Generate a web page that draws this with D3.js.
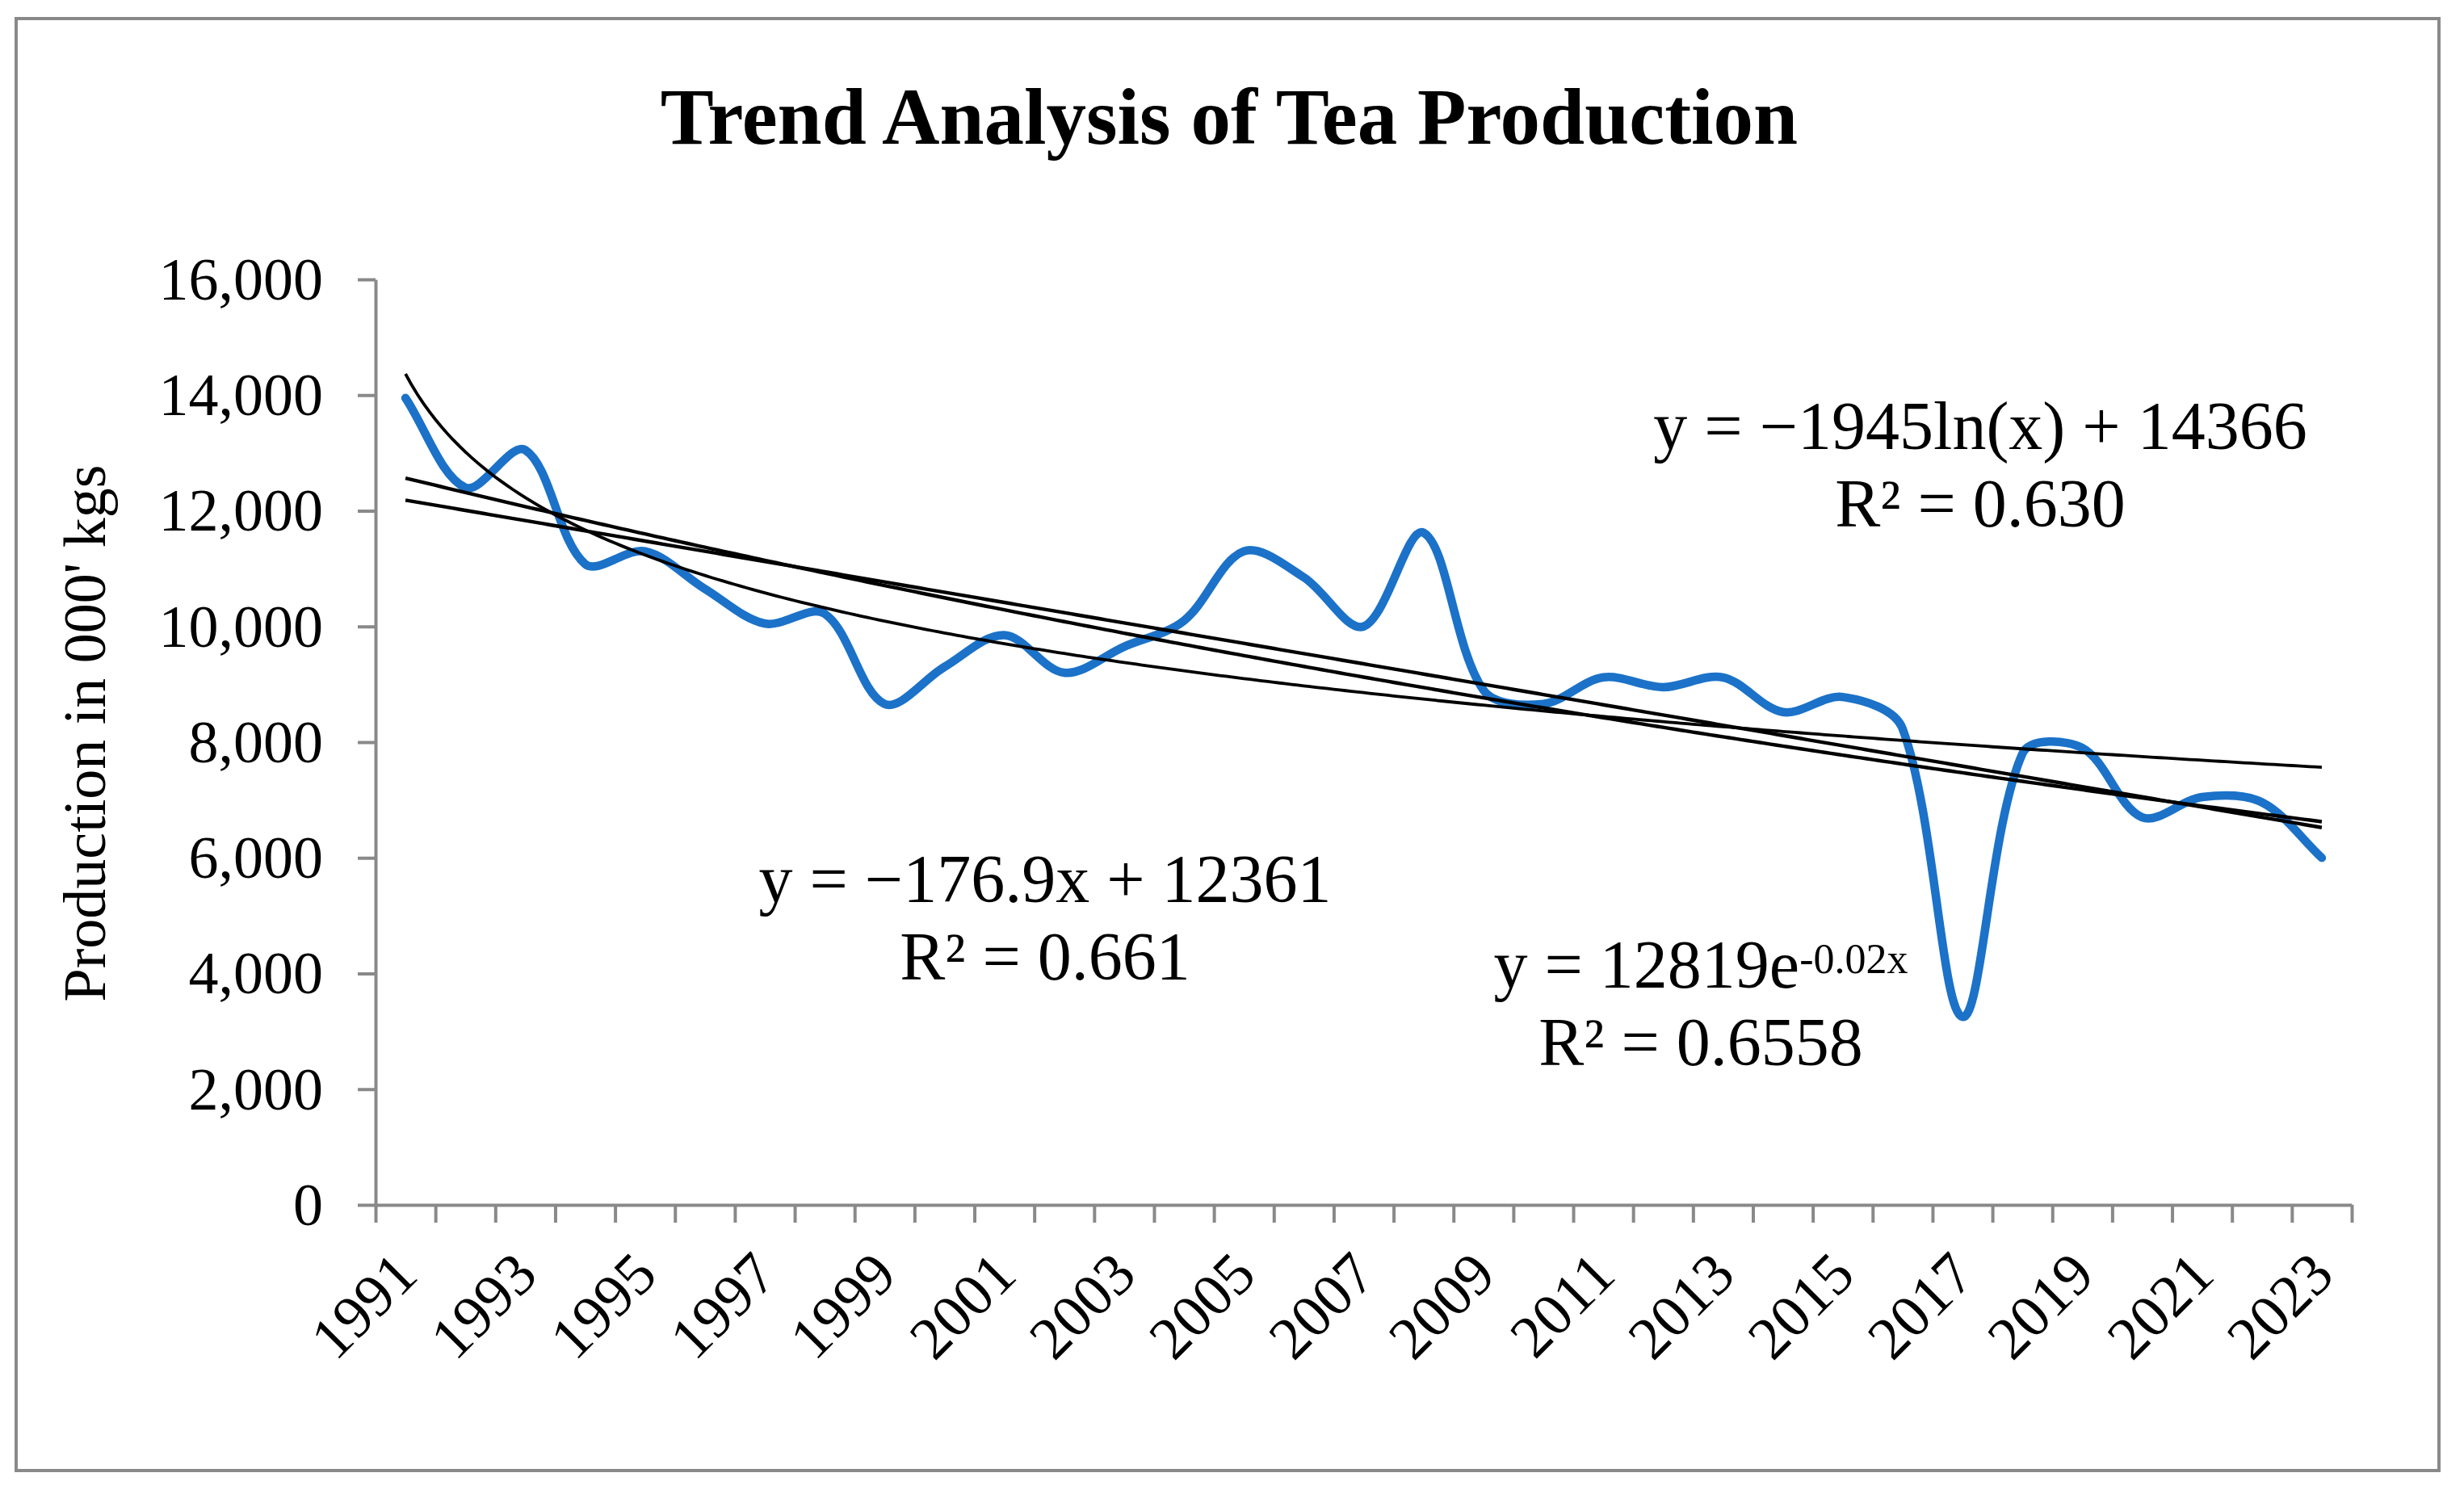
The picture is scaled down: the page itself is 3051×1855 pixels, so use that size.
<!DOCTYPE html>
<html>
<head>
<meta charset="utf-8">
<script src="https://cdn.jsdelivr.net/npm/d3@7"></script>
<style>
  body { margin: 0; background: #fff; }
  text { font-family: "Liberation Serif", "Times New Roman", serif; fill: #000; }
</style>
</head>
<body>
<div id="chart"></div>
<script>
/* DATA */
const years = d3.range(1991, 2024);
const production = [13950, 12400, 13050, 11080, 11300, 10650, 10050, 10220, 8660, 9300,
  9850, 9200, 9650, 10100, 11300, 10850, 10000, 11620, 8900, 8660,
  9120, 8950, 9120, 8520, 8780, 8230, 3250, 7800, 7900, 6700,
  7050, 6960, 6000];
const yTicks = [0, 2000, 4000, 6000, 8000, 10000, 12000, 14000, 16000];
const xLabels = years.filter(y => (y - 1991) % 2 === 0);

// trend lines from the equations printed on the chart (x = 1..33)
const linearCoef = [-176.9, 12361];
const expCoef = [12819, -0.02];
const logCoef = [-1945, 14366];
const eqLabels = [
  { lines: ["y = \u2212176.9x + 12361", "R\u00b2 = 0.661"], cx: 1294, y: 1117 },
  { lines: ["y = 12819e", "R\u00b2 = 0.6558"], sup: "-0.02x", cx: 2106, y: 1223 },
  { lines: ["y = \u22121945ln(x) + 14366", "R\u00b2 = 0.630"], cx: 2452, y: 556 }
];

/* LAYOUT */
const W = 3051, H = 1855;
const plot = { left: 465, right: 2912, top: 346, bottom: 1492 };
const gray = "#898989";

// spreadsheet-style smoothed line: bezier tangents weighted by chord lengths
function SmoothCurve(context) { this._context = context; }
SmoothCurve.prototype = {
  areaStart() {}, areaEnd() {},
  lineStart() { this._pts = []; },
  point(x, y) { this._pts.push([+x, +y]); },
  lineEnd() {
    const p = this._pts, n = p.length, ctx = this._context;
    if (!n) return;
    const dist = (a, b) => Math.hypot(b[0] - a[0], b[1] - a[1]);
    ctx.moveTo(p[0][0], p[0][1]);
    for (let i = 0; i < n - 1; i++) {
      const p0 = p[Math.max(i - 1, 0)], p1 = p[i], p2 = p[i + 1], p3 = p[Math.min(i + 2, n - 1)];
      const d01 = dist(p0, p1), d12 = dist(p1, p2), d23 = dist(p2, p3);
      const f1 = d12 / (d01 + d12) / 3, f2 = d12 / (d12 + d23) / 3;
      ctx.bezierCurveTo(
        p1[0] + (p2[0] - p0[0]) * f1, p1[1] + (p2[1] - p0[1]) * f1,
        p2[0] - (p3[0] - p1[0]) * f2, p2[1] - (p3[1] - p1[1]) * f2,
        p2[0], p2[1]);
    }
  }
};
const smoothCurve = ctx => new SmoothCurve(ctx);

const svg = d3.select("#chart").append("svg")
  .attr("width", W).attr("height", H);

svg.append("rect")
  .attr("x", 20).attr("y", 23).attr("width", 3000).attr("height", 1798)
  .attr("fill", "#fff").attr("stroke", gray).attr("stroke-width", 4);

svg.append("text")
  .attr("x", 1522).attr("y", 178)
  .attr("text-anchor", "middle")
  .style("font-size", "99px").style("font-weight", "bold")
  .text("Trend Analysis of Tea Production");

/* SCALES */
const x = d3.scaleBand().domain(years).range([plot.left, plot.right]).padding(0);
const cx = yr => x(yr) + x.bandwidth() / 2;
const xi = d3.scaleLinear().domain([1, years.length]).range([cx(years[0]), cx(years[years.length - 1])]);
const xEdge = d3.scaleLinear().domain([0, years.length]).range([plot.left, plot.right]);
const y = d3.scaleLinear().domain([0, 16000]).range([plot.bottom, plot.top]);

/* AXES */
const yAxis = svg.append("g")
  .attr("transform", `translate(${plot.left},0)`)
  .call(d3.axisLeft(y).tickValues(yTicks).tickFormat(d3.format(",")).tickSize(22).tickPadding(43).tickSizeOuter(0));
yAxis.select(".domain").attr("stroke", gray).attr("stroke-width", 4);
yAxis.selectAll(".tick line").attr("stroke", gray).attr("stroke-width", 4);
yAxis.selectAll(".tick text")
  .attr("dy", "0.33em")
  .style("font-size", "74px").style("font-family", "Liberation Serif, serif");

const xAxis = svg.append("g")
  .attr("transform", `translate(0,${plot.bottom})`)
  .call(d3.axisBottom(xEdge).ticks(years.length).tickFormat("").tickSize(22).tickSizeOuter(0));
xAxis.select(".domain").attr("stroke", gray).attr("stroke-width", 4);
xAxis.selectAll(".tick line").attr("stroke", gray).attr("stroke-width", 4);

svg.append("g").selectAll("text")
  .data(xLabels)
  .join("text")
  .attr("transform", d => `translate(${cx(d) + 18},${plot.bottom + 90}) rotate(-45)`)
  .attr("text-anchor", "end")
  .style("font-size", "74px")
  .text(d => d);

svg.append("text")
  .attr("transform", `translate(130,908) rotate(-90)`)
  .attr("text-anchor", "middle")
  .style("font-size", "74px")
  .text("Production in 000' kgs");

/* SERIES */
const line = d3.line()
  .x((d, i) => cx(years[i]))
  .y(d => y(d))
  .curve(smoothCurve);

svg.append("path")
  .datum(production)
  .attr("d", line)
  .attr("fill", "none")
  .attr("stroke", "#1b72c8")
  .attr("stroke-width", 10.5)
  .attr("stroke-linecap", "round")
  .attr("stroke-linejoin", "round");

/* TREND LINES */
const xs = d3.range(1, years.length + 0.001, 0.1);
const trends = [
  { f: t => linearCoef[0] * t + linearCoef[1], w: 4.4 },
  { f: t => expCoef[0] * Math.exp(expCoef[1] * t), w: 4.4 },
  { f: t => logCoef[0] * Math.log(t) + logCoef[1], w: 3.8 }
];
const tline = d3.line().x(d => xi(d[0])).y(d => y(d[1]));
svg.append("g").selectAll("path")
  .data(trends)
  .join("path")
  .attr("d", t => tline(xs.map(v => [v, t.f(v)])))
  .attr("fill", "none")
  .attr("stroke", "#000")
  .attr("stroke-width", t => t.w);

/* EQUATION LABELS */
eqLabels.forEach(lab => {
  const t1 = svg.append("text")
    .attr("x", lab.cx).attr("y", lab.y)
    .attr("text-anchor", "middle")
    .style("font-size", "84px")
    .text(lab.lines[0]);
  if (lab.sup) {
    t1.append("tspan")
      .attr("dy", -18)
      .style("font-size", "52px")
      .text(lab.sup);
  }
  svg.append("text")
    .attr("x", lab.cx).attr("y", lab.y + 96)
    .attr("text-anchor", "middle")
    .style("font-size", "84px")
    .text(lab.lines[1]);
});
</script>
</body>
</html>
